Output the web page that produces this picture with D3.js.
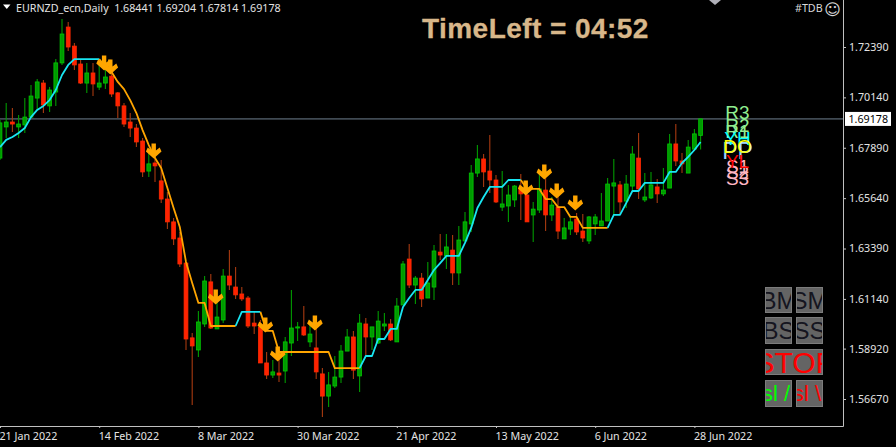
<!DOCTYPE html>
<html>
<head>
<meta charset="utf-8">
<script src="https://cdn.jsdelivr.net/npm/d3@7"></script>
<style>
html,body{margin:0;padding:0;background:#000;overflow:hidden}
svg{display:block}
</style>
</head>
<body>
<svg id="chart" width="896" height="447"></svg>
<script>
const opens=[1.6743,1.6882,1.6904,1.6882,1.6891,1.6926,1.7011,1.7078,1.6976,1.7038,1.7168,1.7328,1.7243,1.7163,1.7078,1.7123,1.7060,1.7078,1.7109,1.7034,1.6976,1.6904,1.6877,1.6819,1.6685,1.6721,1.6641,1.6560,1.6458,1.6386,1.6274,1.5940,1.5886,1.6002,1.6190,1.5980,1.6020,1.6216,1.6167,1.6136,1.6118,1.6006,1.5989,1.5828,1.5774,1.5783,1.5792,1.5917,1.5984,1.5989,1.5922,1.5895,1.5779,1.5680,1.5725,1.5765,1.5881,1.5944,1.5770,1.6002,1.5944,1.5917,1.5993,1.6002,1.5922,1.6087,1.6292,1.6176,1.6207,1.6118,1.6167,1.6323,1.6306,1.6332,1.6230,1.6373,1.6449,1.6676,1.6739,1.6685,1.6645,1.6524,1.6529,1.6556,1.6605,1.6578,1.6489,1.6511,1.6600,1.6489,1.6524,1.6382,1.6426,1.6471,1.6417,1.6373,1.6449,1.6440,1.6462,1.6618,1.6623,1.6551,1.6618,1.6743,1.6556,1.6565,1.6614,1.6583,1.6609,1.6806,1.6730,1.6676,1.6783,1.68441];
const highs=[1.6913,1.6989,1.6967,1.6935,1.7011,1.7069,1.7096,1.7092,1.7060,1.7185,1.7364,1.7351,1.7257,1.7181,1.7168,1.7168,1.7172,1.7150,1.7123,1.7038,1.6989,1.6944,1.6895,1.6833,1.6766,1.6792,1.6734,1.6591,1.6475,1.6413,1.6279,1.5962,1.6060,1.6216,1.6225,1.6123,1.6248,1.6332,1.6257,1.6167,1.6127,1.6056,1.6020,1.5877,1.5841,1.5899,1.5944,1.6154,1.6011,1.6082,1.6015,1.5989,1.5805,1.5788,1.5859,1.5908,1.5980,1.5971,1.6047,1.6029,1.5989,1.6060,1.6051,1.6024,1.6118,1.6283,1.6359,1.6216,1.6230,1.6279,1.6355,1.6404,1.6404,1.6399,1.6440,1.6502,1.6712,1.6801,1.6761,1.6846,1.6667,1.6685,1.6623,1.6623,1.6672,1.6623,1.6547,1.6681,1.6690,1.6569,1.6587,1.6475,1.6480,1.6498,1.6493,1.6484,1.6493,1.6587,1.6654,1.6739,1.6641,1.6667,1.6797,1.6855,1.6676,1.6681,1.6650,1.6699,1.6851,1.6895,1.6766,1.6824,1.6873,1.69204];
const lows=[1.6734,1.6833,1.6859,1.6833,1.6855,1.6922,1.6958,1.6944,1.6949,1.6976,1.7159,1.7221,1.7136,1.7074,1.7034,1.7020,1.7047,1.7051,1.7016,1.6922,1.6882,1.6837,1.6792,1.6658,1.6658,1.6636,1.6542,1.6426,1.6355,1.6257,1.5886,1.5640,1.5855,1.5989,1.5980,1.5980,1.6006,1.6154,1.6114,1.6105,1.5984,1.5957,1.5828,1.5756,1.5761,1.5743,1.5738,1.5859,1.5926,1.5948,1.5899,1.5756,1.5587,1.5631,1.5716,1.5738,1.5881,1.5756,1.5698,1.5855,1.5886,1.5913,1.5971,1.5926,1.5922,1.6087,1.6163,1.6091,1.6078,1.6118,1.6109,1.6288,1.6248,1.6176,1.6176,1.6373,1.6413,1.6658,1.6614,1.6587,1.6542,1.6507,1.6458,1.6524,1.6466,1.6458,1.6368,1.6498,1.6417,1.6462,1.6382,1.6382,1.6399,1.6399,1.6368,1.6359,1.6399,1.6440,1.6462,1.6489,1.6489,1.6520,1.6596,1.6560,1.6547,1.6560,1.6542,1.6574,1.6609,1.6708,1.6676,1.6676,1.6779,1.67814];
const closes=[1.6900,1.6904,1.6895,1.6895,1.6926,1.7020,1.7083,1.6980,1.7047,1.7168,1.7297,1.7239,1.7159,1.7078,1.7123,1.7074,1.7078,1.7105,1.7029,1.6976,1.6895,1.6877,1.6815,1.6681,1.6717,1.6708,1.6560,1.6458,1.6382,1.6270,1.5935,1.5904,1.6011,1.6194,1.5984,1.6033,1.6216,1.6176,1.6132,1.6114,1.5993,1.5993,1.5828,1.5774,1.5788,1.5774,1.5922,1.5984,1.5989,1.5953,1.5957,1.5788,1.5680,1.5730,1.5765,1.5881,1.5944,1.5796,1.6006,1.5944,1.5989,1.6015,1.6002,1.5931,1.6082,1.6270,1.6176,1.6207,1.6114,1.6185,1.6328,1.6310,1.6346,1.6230,1.6377,1.6458,1.6676,1.6739,1.6681,1.6645,1.6547,1.6538,1.6578,1.6618,1.6583,1.6458,1.6515,1.6605,1.6489,1.6533,1.6417,1.6431,1.6458,1.6413,1.6386,1.6480,1.6480,1.6462,1.6627,1.6632,1.6547,1.6627,1.6761,1.6605,1.6569,1.6623,1.6583,1.6600,1.6806,1.6730,1.6717,1.6792,1.6851,1.69178];
const trendLine=[1.6792,1.6824,1.6837,1.6855,1.6877,1.6926,1.6958,1.6976,1.7002,1.7047,1.7114,1.7159,1.7185,1.7185,1.7185,1.7185,1.7185,1.7150,1.7127,1.7083,1.7051,1.7002,1.6944,1.6868,1.6801,1.6743,1.6699,1.6609,1.6520,1.6435,1.6279,1.6185,1.6096,1.6096,1.5993,1.5993,1.5993,1.5993,1.5993,1.6056,1.6056,1.6056,1.6056,1.5971,1.5971,1.5877,1.5877,1.5877,1.5877,1.5877,1.5877,1.5877,1.5877,1.5877,1.5805,1.5805,1.5805,1.5805,1.5805,1.5859,1.5859,1.5935,1.5935,1.5980,1.5980,1.6078,1.6118,1.6154,1.6154,1.6198,1.6243,1.6274,1.6306,1.6306,1.6306,1.6364,1.6431,1.6520,1.6569,1.6614,1.6614,1.6614,1.6645,1.6645,1.6645,1.6605,1.6605,1.6605,1.6560,1.6560,1.6524,1.6524,1.6480,1.6480,1.6431,1.6431,1.6431,1.6431,1.6431,1.6489,1.6489,1.6542,1.6596,1.6596,1.6632,1.6632,1.6632,1.6632,1.6681,1.6681,1.6721,1.6748,1.6779,1.6815];
const trendStart=[0,16,38,42,58,84,98];
const trendEnd=[16,38,42,58,84,98,113];
const trendColor=["#19e6f2","#ffa500","#19e6f2","#ffa500","#19e6f2","#ffa500","#19e6f2"];
const arrowBars=[17,18,25,35,43,45,51,85,88,90,93];
const arrowPrices=[1.7136,1.7118,1.6743,1.6091,1.5966,1.5837,1.5975,1.6578,1.6650,1.6565,1.6511];
const pivotNames=["R3","R2","R1","S3","S2","S1","PP","YH","DO","YL"];
const pivotPrices=[1.6917,1.6859,1.6833,1.6623,1.6650,1.6676,1.6739,1.6801,1.6766,1.6699];
const pivotColors=["#90ee90","#90ee90","#90ee90","#ffb6c1","#ffb6c1","#ffb6c1","#9fd6ff","#00ffff","#ffff00","#ff0000"];
const pivotFonts=[19,19,19,19,19,19,23,19,19,19];
const priceTicks=[1.7239,1.7014,1.6789,1.6564,1.6339,1.6114,1.5892,1.5667];
const priceTickLabels=["1.72390","1.70140","1.67890","1.65640","1.63390","1.61140","1.58920","1.56670"];
const dateTickBars=[0,16,32,48,64,80,96,112];
const dateTickLabels=["21 Jan 2022","14 Feb 2022","8 Mar 2022","30 Mar 2022","21 Apr 2022","13 May 2022","6 Jun 2022","28 Jun 2022"];
const buttonLabels=["BM","SM","BS","SS","STOP","sl /","sl \\"];
const buttonColors=["#15151f","#15151f","#15151f","#15151f","#ff0000","#00ff00","#ff0000"];
const buttonCols=[0,1,0,1,0,0,1];
const buttonRows=[0,0,1,1,2,3,3];
const buttonSpans=[1,1,1,1,2,1,1];
const buttonFonts=[24,24,24,24,30,22,22];
const buttonShift=[0,0,0,0,1,-2.5,-2.5];
const lastPrice=1.69178;

const svg=d3.select("#chart");
const W=843,H=426;
const x=d3.scaleLinear().domain([0,113]).range([0,700.6]);
const y=d3.scaleLinear().domain([1.7239,1.5667]).range([47,399]);
const smallFont="'Noto Sans',sans-serif";
const smallSize=10.7;
const axisColor="#c0c0c0";

svg.append("rect").attr("width",896).attr("height",447).attr("fill","#000");
const defs=svg.append("defs");
defs.append("clipPath").attr("id","plot").append("rect").attr("width",W).attr("height",H);
const plot=svg.append("g").attr("clip-path","url(#plot)");

plot.append("line").attr("x1",0).attr("x2",W).attr("y1",y(lastPrice)).attr("y2",y(lastPrice))
  .attr("stroke","#6f8190").attr("stroke-width",1);

const candles=d3.range(opens.length).map(i=>({i,o:opens[i],h:highs[i],l:lows[i],c:closes[i],up:closes[i]>=opens[i]}));
plot.append("g").selectAll("line").data(candles).join("line")
  .attr("x1",d=>x(d.i)).attr("x2",d=>x(d.i))
  .attr("y1",d=>y(d.h)).attr("y2",d=>y(d.l))
  .attr("stroke",d=>d.up?"#009a00":"#a83a10").attr("stroke-width",1.1);
plot.append("g").selectAll("rect").data(candles).join("rect")
  .attr("x",d=>x(d.i)-1.9).attr("width",3.8)
  .attr("y",d=>y(Math.max(d.o,d.c)))
  .attr("height",d=>Math.max(1,Math.abs(y(d.o)-y(d.c))))
  .attr("fill",d=>d.up?"#009a00":"#ff2200")
  .attr("stroke",d=>d.up?"#00c800":"#ff2a00").attr("stroke-width",0.8);

const line=d3.line().x(d=>x(d)).y(d=>y(trendLine[d]));
trendStart.forEach((s,k)=>{
  plot.append("path").attr("d",line(d3.range(s,trendEnd[k]+1))).attr("fill","none")
    .attr("stroke",trendColor[k]).attr("stroke-width",1.8).attr("stroke-linejoin","round");
});

const arrowShape="M-2.2,-14.5L2.2,-14.5L2.2,-7.5L6,-10.5L7.8,-6.5L0,0.5L-7.8,-6.5L-6,-10.5L-2.2,-7.5Z";
plot.append("g").selectAll("path").data(arrowBars).join("path")
  .attr("d",arrowShape).attr("fill","#ffa500")
  .attr("transform",(d,k)=>`translate(${x(d)-1.3},${y(arrowPrices[k])})`);

plot.append("g").selectAll("text").data(pivotNames).join("text")
  .attr("x",737.5).attr("y",(d,k)=>y(pivotPrices[k]))
  .attr("text-anchor","middle").attr("font-family","'Liberation Sans',sans-serif")
  .attr("font-size",(d,k)=>pivotFonts[k]).attr("fill",(d,k)=>pivotColors[k]).text(d=>d);

const axisRight=d3.axisRight(y).tickValues(priceTicks).tickSize(3).tickPadding(3)
  .tickFormat((d,k)=>priceTickLabels[k]);
const gy=svg.append("g").attr("transform",`translate(${W},0)`).call(axisRight);
const xb=d3.axisBottom(x).tickValues(dateTickBars).tickSize(2).tickPadding(2)
  .tickFormat((d,k)=>dateTickLabels[k]);
const gx=svg.append("g").attr("transform",`translate(0,${H})`).call(xb);
[gy,gx].forEach(g=>{
  g.select(".domain").remove();
  g.selectAll("line").attr("stroke",axisColor);
  g.selectAll("text").attr("fill","#e4e4e4").attr("font-family",smallFont).attr("font-size",smallSize);
});
gx.selectAll("text").attr("text-anchor","start").attr("dy",null).attr("y",14).attr("x",-1);
svg.append("line").attr("x1",W+0.5).attr("x2",W+0.5).attr("y1",0).attr("y2",H+0.5).attr("stroke",axisColor);
svg.append("line").attr("x1",0).attr("x2",W+0.5).attr("y1",H+0.5).attr("y2",H+0.5).attr("stroke",axisColor);

svg.append("rect").attr("x",845).attr("y",y(lastPrice)-7).attr("width",46).attr("height",14).attr("fill","#fff");
svg.append("text").attr("x",848.5).attr("y",y(lastPrice)+4).attr("fill","#000")
  .attr("font-family",smallFont).attr("font-size",smallSize).text("1.69178");

svg.append("path").attr("d",d3.line()([[3,4.5],[10.5,4.5],[6.8,9]])).attr("fill","#fff");
svg.append("text").attr("x",16).attr("y",11.5).attr("fill","#e4e4e4")
  .attr("font-family",smallFont).attr("font-size",smallSize).attr("xml:space","preserve")
  .text("EURNZD_ecn,Daily  1.68441 1.69204 1.67814 1.69178");
svg.append("path").attr("d",d3.line()([[709,0],[721,0],[715,5]])).attr("fill","#b0b0b8");
svg.append("text").attr("x",795).attr("y",12).attr("fill","#d8d8d8")
  .attr("font-family",smallFont).attr("font-size",smallSize).text("#TDB");
svg.append("text").attr("x",832.5).attr("y",14.5).attr("text-anchor","middle").attr("fill","#d8d8d8")
  .attr("font-family","'DejaVu Sans'").attr("font-size",16).text("\u263A");

svg.append("text").attr("x",422).attr("y",38).attr("fill","#d8b78a")
  .attr("font-family","'Liberation Sans',Arial,sans-serif").attr("font-weight","bold")
  .attr("font-size",28).attr("letter-spacing",0.45).attr("stroke","#d8b78a").attr("stroke-width",0.3)
  .text("TimeLeft = 04:52");

const bx=[765,796],by=[287,317,349,380],bw=27,bh=[26,27,26,27];
buttonLabels.forEach((t,k)=>{
  const left=bx[buttonCols[k]],top=by[buttonRows[k]],w=buttonSpans[k]===2?58:bw,h=bh[buttonRows[k]];
  defs.append("clipPath").attr("id","btn"+k).append("rect").attr("x",left+1).attr("y",top).attr("width",w-2).attr("height",h);
  svg.append("rect").attr("x",left+0.5).attr("y",top+0.5).attr("width",w-1).attr("height",h-1)
    .attr("fill","#646464").attr("stroke","#7c7c7c");
  svg.append("text").attr("clip-path",`url(#btn${k})`).attr("x",left+w/2+buttonShift[k]).attr("y",top+h/2+buttonFonts[k]*0.36)
    .attr("text-anchor","middle").attr("font-family","'Liberation Sans',Arial,sans-serif")
    .attr("font-size",buttonFonts[k]).attr("fill",buttonColors[k]).text(t);
});
</script>
</body>
</html>
